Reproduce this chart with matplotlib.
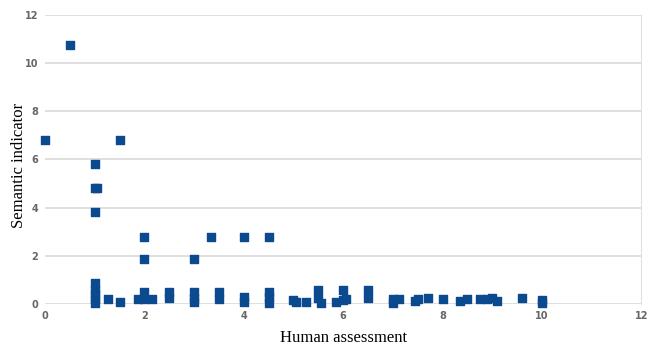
import matplotlib.pyplot as plt

# human assessment (x) vs semantic indicator (y)
human = [0.5, 0, 1.5, 1, 1, 1.05, 1, 2, 2, 3, 3.35, 4, 4.5,
         1, 1, 1, 1, 1, 1.27, 1.5, 1.87, 2, 2, 2.15, 2.5, 2.5,
         3, 3, 3, 3.5, 3.5, 4, 4, 4.5, 4.5, 4.5,
         5, 5.05, 5.25, 5.5, 5.5, 5.55, 5.85, 6, 6, 6.05,
         6.5, 6.5, 7, 7, 7.12, 7.45, 7.5, 7.7, 8, 8.35, 8.5,
         8.75, 8.9, 9.0, 9.1, 9.6, 10, 10]
semantic = [10.75, 6.8, 6.8, 5.8, 4.8, 4.8, 3.8, 2.8, 1.85, 1.85, 2.8, 2.8, 2.8,
            0.85, 0.6, 0.4, 0.2, 0.05, 0.2, 0.1, 0.2, 0.5, 0.2, 0.2, 0.5, 0.25,
            0.5, 0.25, 0.1, 0.5, 0.2, 0.3, 0.1, 0.5, 0.3, 0.05,
            0.17, 0.1, 0.1, 0.58, 0.25, 0.05, 0.1, 0.58, 0.17, 0.2,
            0.58, 0.25, 0.2, 0.05, 0.2, 0.12, 0.2, 0.25, 0.2, 0.12, 0.2,
            0.2, 0.2, 0.25, 0.12, 0.25, 0.17, 0.05]

xticks = [0, 2, 4, 6, 8, 10, 12]
yticks = [0, 2, 4, 6, 8, 10, 12]

fig = plt.figure(figsize=(6.53, 3.47), dpi=100)
ax = fig.add_axes([0.069, 0.124, 0.913, 0.833])

ax.scatter(human, semantic, marker='s', s=34, color='#0b4a8e', zorder=3, clip_on=False)

ax.set_xlim(0, 12)
ax.set_ylim(0, 12)
ax.set_xticks(xticks)
ax.set_yticks(yticks)
ax.tick_params(length=0, labelsize=7, labelcolor='#666666', pad=5)
for lab in ax.get_xticklabels() + ax.get_yticklabels():
    lab.set_fontweight('bold')

ax.grid(axis='y', color='#d9d9d9', linewidth=1.2, zorder=0)
for side in ['top', 'left', 'bottom']:
    ax.spines[side].set_visible(False)
ax.spines['right'].set_color('#e0e0e0')

ax.set_xlabel('Human assessment', family='Liberation Serif', fontsize=12)
ax.set_ylabel('Semantic indicator', family='Liberation Serif', fontsize=12)
ax.xaxis.set_label_coords(0.5, -0.09)
ax.yaxis.set_label_coords(-0.03, 0.48)

fig.savefig('out.png', dpi=100)
